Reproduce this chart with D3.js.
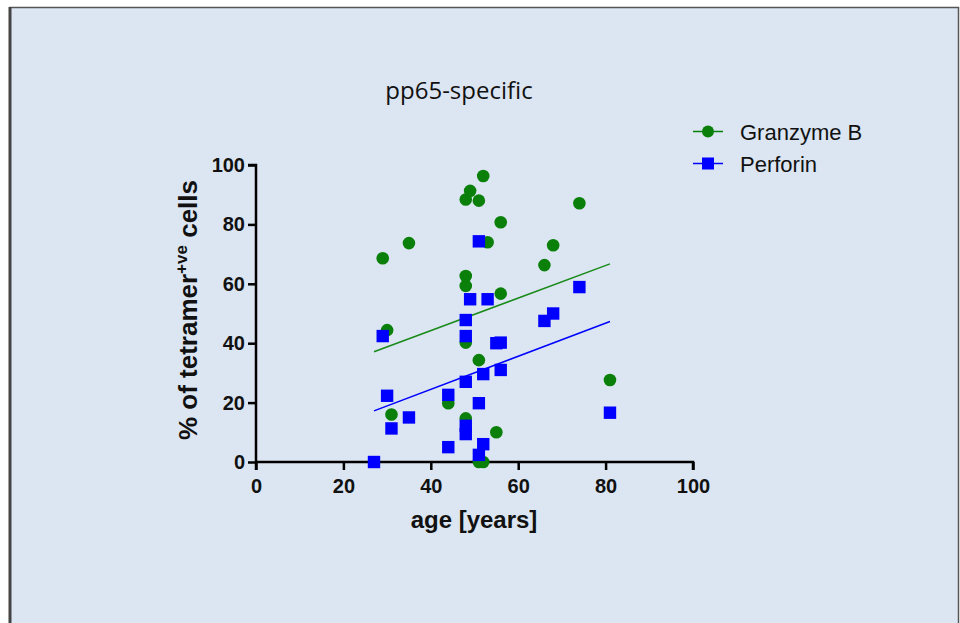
<!DOCTYPE html>
<html lang="en">
<head>
  <meta charset="UTF-8" />
  <title>pp65-specific</title>
  <script src="https://d3js.org/d3.v7.min.js"></script>
  <style>
    body {
      margin: 0;
      background: #fff;
      overflow: hidden;
    }

    svg {
      display: block;
    }

    .axis path,
    .axis line {
      stroke: #000;
      stroke-width: 2.5px;
    }

    .axis text {
      font-family: "Liberation Sans", Arial, sans-serif;
      font-weight: bold;
      font-size: 20px;
      fill: #111;
    }

    .axis-title {
      font-family: "Liberation Sans", Arial, sans-serif;
      font-weight: bold;
      font-size: 24px;
      fill: #111;
    }

    .legend text {
      font-family: "Liberation Sans", Arial, sans-serif;
      font-size: 22px;
      fill: #111;
    }
  </style>
</head>
<body>
  <svg width="960" height="623"></svg>
  <script>
    // Granzyme B, [age, %]
    const granzymeB = [
      [29, 68.6], [30, 44.4], [31, 16.0], [35, 73.7], [44, 19.8],
      [48, 88.4], [48, 62.6], [48, 59.3], [48, 40.2], [48, 14.7],
      [49, 91.3], [51, 88.0], [51, 34.3], [51, 0], [52, 0],
      [52, 96.3], [53, 74.0], [55, 10.0], [56, 80.7], [56, 56.7],
      [66, 66.3], [68, 73.0], [74, 87.1], [81, 27.6]
    ];

    // Perforin, [age, %]
    const perforin = [
      [27, 0], [29, 42.4], [30, 22.3], [31, 11.3], [35, 15.0],
      [44, 22.6], [44, 5.0], [48, 47.8], [48, 42.4], [48, 27.0],
      [48, 12.2], [48, 9.4], [49, 54.8], [51, 74.3], [51, 19.8],
      [51, 2.4], [52, 29.6], [52, 6.0], [53, 54.8], [55, 40.0],
      [56, 40.2], [56, 31.0], [66, 47.5], [68, 50.0], [74, 58.9],
      [81, 16.6]
    ];

    // fitted lines as drawn, [age, %] at both ends
    const fitGranzymeB = [[27, 37.1], [81, 66.7]];
    const fitPerforin = [[27, 17.2], [81, 47.3]];

    const xTicks = [0, 20, 40, 60, 80, 100];
    const yTicks = [0, 20, 40, 60, 80, 100];

    const svg = d3.select("svg");

    // panel
    svg.append("rect")
      .attr("x", 10).attr("y", 7.5)
      .attr("width", 948.5).attr("height", 640)
      .attr("fill", "#dce6f2")
      .attr("stroke", "#555")
      .attr("stroke-width", 1.5);
    svg.append("line")
      .attr("x1", 10).attr("x2", 10).attr("y1", 7).attr("y2", 623)
      .attr("stroke", "#444").attr("stroke-width", 3);

    const x = d3.scaleLinear().domain([0, 100]).range([256, 693]);
    const y = d3.scaleLinear().domain([0, 100]).range([462, 165]);

    svg.append("g")
      .attr("class", "axis")
      .attr("transform", "translate(0,462)")
      .call(d3.axisBottom(x).tickValues(xTicks).tickSize(8).tickSizeOuter(8).tickPadding(9))
      .call(g => g.select(".domain").attr("d", "M256,0H693V8"));

    svg.append("g")
      .attr("class", "axis")
      .attr("transform", "translate(256,0)")
      .call(d3.axisLeft(y).tickValues(yTicks).tickSize(8).tickPadding(3))
      .call(g => g.select(".domain").attr("d", "M-8,165H0V470"));

    svg.append("text")
      .attr("class", "axis-title")
      .attr("x", 474).attr("y", 528)
      .attr("text-anchor", "middle")
      .text("age [years]");

    const yTitle = svg.append("text")
      .attr("class", "axis-title")
      .style("font-size", "26px")
      .attr("transform", "translate(197,310) rotate(-90)")
      .attr("text-anchor", "middle");
    yTitle.append("tspan").text("% of tetramer");
    yTitle.append("tspan").attr("dy", -10).style("font-size", "17px").text("+ve");
    yTitle.append("tspan").attr("dy", 10).text(" cells");

    svg.append("text")
      .attr("x", 459).attr("y", 99)
      .attr("text-anchor", "middle")
      .attr("font-family", "'Open Sans', sans-serif")
      .attr("font-size", 24)
      .attr("fill", "#111")
      .text("pp65-specific");

    const line = d3.line().x(d => x(d[0])).y(d => y(d[1]));

    svg.append("path").datum(fitGranzymeB)
      .attr("d", line).attr("fill", "none")
      .attr("stroke", "#1a8a1a").attr("stroke-width", 1.5);
    svg.append("path").datum(fitPerforin)
      .attr("d", line).attr("fill", "none")
      .attr("stroke", "#0000ff").attr("stroke-width", 1.5);

    svg.append("g")
      .selectAll("circle")
      .data(granzymeB)
      .join("circle")
      .attr("cx", d => x(d[0]))
      .attr("cy", d => y(d[1]))
      .attr("r", 6.3)
      .attr("fill", "#0a800a");

    svg.append("g")
      .selectAll("rect")
      .data(perforin)
      .join("rect")
      .attr("x", d => x(d[0]) - 6.2)
      .attr("y", d => y(d[1]) - 6.2)
      .attr("width", 12.4)
      .attr("height", 12.4)
      .attr("fill", "#0000ff");

    // legend
    const legend = svg.append("g").attr("class", "legend");
    const items = [
      { name: "Granzyme B", color: "#0a800a", shape: "circle" },
      { name: "Perforin", color: "#0000ff", shape: "square" }
    ];
    const row = legend.selectAll("g")
      .data(items)
      .join("g")
      .attr("transform", (d, i) => `translate(693,${131.5 + i * 32})`);
    row.append("line")
      .attr("x1", 0).attr("x2", 30)
      .attr("stroke", d => d.color).attr("stroke-width", 1.5);
    row.filter(d => d.shape === "circle").append("circle")
      .attr("cx", 15).attr("r", 6).attr("fill", d => d.color);
    row.filter(d => d.shape === "square").append("rect")
      .attr("x", 9).attr("y", -6).attr("width", 12).attr("height", 12)
      .attr("fill", d => d.color);
    row.append("text")
      .attr("x", 47).attr("y", 8)
      .text(d => d.name);
  </script>
</body>
</html>
